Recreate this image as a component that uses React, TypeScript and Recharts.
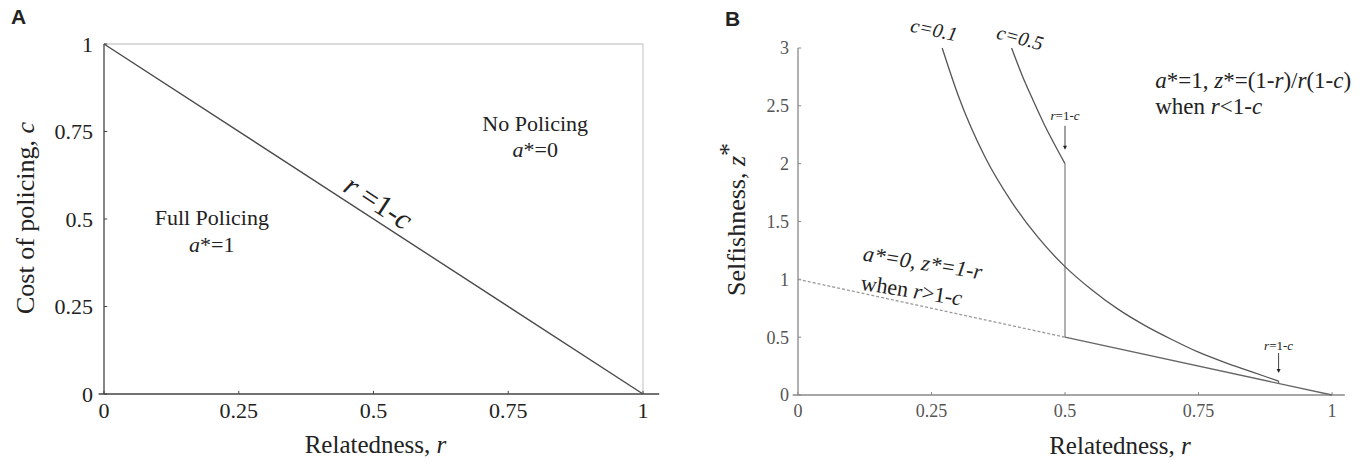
import React from "react";
import { LineChart, Line, XAxis, YAxis, ReferenceLine, ReferenceDot } from "recharts";

const SERIF = "'Liberation Serif', 'Times New Roman', serif";

// Panel A: policing boundary r = 1 - c
const ticksA = [0, 0.25, 0.5, 0.75, 1];
const boundaryR = [0, 1];
const boundaryC = [1, 0];

// Panel B: selfishness z* against relatedness r
const ticksBX = [0, 0.25, 0.5, 0.75, 1];
const ticksBY = [0, 0.5, 1, 1.5, 2, 2.5, 3];
const c01R = [0.27, 0.3, 0.35, 0.4, 0.45, 0.5, 0.55, 0.6, 0.65, 0.7, 0.75, 0.8, 0.85, 0.9];
const c01Z = [3.0, 2.59, 2.06, 1.67, 1.36, 1.11, 0.91, 0.74, 0.6, 0.48, 0.37, 0.28, 0.2, 0.12];
const c05R = [0.4, 0.42, 0.44, 0.46, 0.48, 0.5];
const c05Z = [3.0, 2.76, 2.55, 2.35, 2.17, 2.0];
const jumpR = [0.5, 0.5];
const jumpZ = [2.0, 0.5];
const tailR = [0.9, 0.9];
const tailZ = [0.12, 0.1];
const noPoliceDashR = [0, 0.5];
const noPoliceDashZ = [1, 0.5];
const noPoliceR = [0.5, 1];
const noPoliceZ = [0.5, 0];

const zip = (xs: number[], ys: number[], key: string) => xs.map((x, i) => ({ r: x, [key]: ys[i] }));

type Part = [string, boolean?];

const Rich = ({ x, y, parts, size, angle = 0, anchor = "middle", fill = "#222" }: any) => (
  <text
    x={x}
    y={y}
    fontSize={size}
    fill={fill}
    textAnchor={anchor}
    dominantBaseline="central"
    fontFamily={SERIF}
    transform={angle ? `rotate(${angle} ${x} ${y})` : undefined}
  >
    {parts.map(([t, it]: Part, i: number) => (
      <tspan key={i} fontStyle={it ? "italic" : "normal"}>
        {t}
      </tspan>
    ))}
  </text>
);

const note = (parts: Part[], size: number, opts: any = {}) => (props: any) => {
  const { x, y } = props.viewBox;
  return <Rich x={x} y={y} parts={parts} size={size} {...opts} />;
};

// small down arrow whose tip sits on the reference point
const arrow = (len: number) => (props: any) => {
  const { x, y } = props.viewBox;
  return (
    <g>
      <line x1={x} y1={y - len} x2={x} y2={y - 2} stroke="#444" strokeWidth={1} />
      <path d={`M${x - 2},${y - 4} L${x + 2},${y - 4} L${x},${y} Z`} fill="#222" />
    </g>
  );
};

const xTitle = (parts: Part[], size: number, dx: number, dy: number, fill: string) => (props: any) => {
  const { x, y, width } = props.viewBox;
  return <Rich x={x + width / 2 + dx} y={y + dy} parts={parts} size={size} fill={fill} />;
};

const yTitle = (size: number, cx: number, dy: number, fill: string, star: boolean) => (props: any) => {
  const { y, height } = props.viewBox;
  const cy = y + height / 2 + dy;
  return (
    <text
      x={cx}
      y={cy}
      fontSize={size}
      fill={fill}
      textAnchor="middle"
      dominantBaseline="central"
      fontFamily={SERIF}
      transform={`rotate(-90 ${cx} ${cy})`}
    >
      {star ? (
        <>
          <tspan>Selfishness, </tspan>
          <tspan fontStyle="italic">z</tspan>
          <tspan dy={-8}>*</tspan>
        </>
      ) : (
        <>
          <tspan>Cost of policing, </tspan>
          <tspan fontStyle="italic">c</tspan>
        </>
      )}
    </text>
  );
};

const PanelLetter = ({ left, top, children }: any) => (
  <div
    style={{
      position: "absolute",
      left,
      top,
      fontFamily: "'Liberation Sans', Arial, sans-serif",
      fontWeight: 700,
      fontSize: 21,
      color: "#222",
      lineHeight: 1,
    }}
  >
    {children}
  </div>
);

const PanelA = () => (
  <LineChart width={680} height={467} margin={{ top: 44, right: 37, bottom: 33, left: 44 }}>
    <XAxis
      dataKey="r"
      type="number"
      domain={[0, 1]}
      ticks={ticksA}
      axisLine={false}
      tickLine={false}
      tickSize={6}
      tickMargin={2}
      height={40}
      tick={{ fontSize: 22, fill: "#222", fontFamily: SERIF }}
      label={{ content: xTitle([["Relatedness, "], ["r", true]], 25, 2, 50, "#222") }}
    />
    <YAxis
      type="number"
      domain={[0, 1]}
      ticks={ticksA}
      width={60}
      axisLine={{ stroke: "#444", strokeWidth: 1.3 }}
      tickLine={false}
      tickSize={6}
      tickMargin={5}
      tick={{ fontSize: 22, fill: "#222", fontFamily: SERIF }}
      label={{ content: yTitle(26, 25, -1, "#222", false) }}
    />
    {/* frame */}
    <ReferenceLine segment={[{ x: 0, y: 1 }, { x: 1, y: 1 }]} stroke="#cfcfcf" strokeWidth={1.3} ifOverflow="visible" />
    <ReferenceLine segment={[{ x: 1, y: 0 }, { x: 1, y: 1 }]} stroke="#cfcfcf" strokeWidth={1.3} ifOverflow="visible" />
    <ReferenceLine segment={[{ x: -0.01, y: 0 }, { x: 1.03, y: 0 }]} stroke="#444" strokeWidth={1.3} ifOverflow="visible" />
    {ticksA.map((t) => (
      <ReferenceLine key={"xa" + t} segment={[{ x: t, y: 0 }, { x: t, y: 0.009 }]} stroke="#444" ifOverflow="visible" />
    ))}
    {ticksA.map((t) => (
      <ReferenceLine key={"ya" + t} segment={[{ x: 0, y: t }, { x: 0.006, y: t }]} stroke="#444" ifOverflow="visible" />
    ))}
    <Line
      data={zip(boundaryR, boundaryC, "c")}
      dataKey="c"
      type="linear"
      stroke="#4a4a4a"
      strokeWidth={1.4}
      dot={false}
      isAnimationActive={false}
    />
    <ReferenceDot x={0.8} y={0.775} r={0} ifOverflow="visible" label={note([["No Policing"]], 22)} />
    <ReferenceDot x={0.8} y={0.7} r={0} ifOverflow="visible" label={note([["a", true], ["*=0"]], 22)} />
    <ReferenceDot x={0.2} y={0.505} r={0} ifOverflow="visible" label={note([["Full Policing"]], 22)} />
    <ReferenceDot x={0.2} y={0.43} r={0} ifOverflow="visible" label={note([["a", true], ["*=1"]], 22)} />
    <ReferenceDot
      x={0.51}
      y={0.55}
      r={0}
      ifOverflow="visible"
      label={note([["r", true], [" =1-"], ["c", true]], 30, { angle: 33 })}
    />
  </LineChart>
);

const PanelB = () => (
  <LineChart width={684} height={467} margin={{ top: 48, right: 32, bottom: 32, left: 58 }}>
    <XAxis
      dataKey="r"
      type="number"
      domain={[0, 1]}
      ticks={ticksBX}
      axisLine={false}
      tickLine={false}
      tickSize={6}
      tickMargin={3}
      height={40}
      tick={{ fontSize: 18, fill: "#555", fontFamily: SERIF }}
      label={{ content: xTitle([["Relatedness, "], ["r", true]], 25, 55, 50, "#222") }}
    />
    <YAxis
      type="number"
      domain={[0, 3]}
      ticks={ticksBY}
      width={60}
      axisLine={{ stroke: "#888", strokeWidth: 1.3 }}
      tickLine={false}
      tickSize={6}
      tickMargin={3}
      tick={{ fontSize: 18, fill: "#555", fontFamily: SERIF }}
      label={{ content: yTitle(26, 56, -2, "#222", true) }}
    />
    <ReferenceLine segment={[{ x: -0.01, y: 0 }, { x: 1.024, y: 0 }]} stroke="#888" strokeWidth={1.3} ifOverflow="visible" />
    {ticksBX.map((t) => (
      <ReferenceLine key={"xb" + t} segment={[{ x: t, y: 0 }, { x: t, y: 0.025 }]} stroke="#888" ifOverflow="visible" />
    ))}
    {ticksBY.map((t) => (
      <ReferenceLine key={"yb" + t} segment={[{ x: 0, y: t }, { x: 0.006, y: t }]} stroke="#888" ifOverflow="visible" />
    ))}
    <Line data={zip(noPoliceDashR, noPoliceDashZ, "z")} dataKey="z" type="linear" stroke="#9a9a9a" strokeWidth={1.3} strokeDasharray="3 2" dot={false} isAnimationActive={false} />
    <Line data={zip(noPoliceR, noPoliceZ, "z")} dataKey="z" type="linear" stroke="#666" strokeWidth={1.3} dot={false} isAnimationActive={false} />
    <Line data={zip(jumpR, jumpZ, "z")} dataKey="z" type="linear" stroke="#888" strokeWidth={1.3} dot={false} isAnimationActive={false} />
    <Line data={zip(tailR, tailZ, "z")} dataKey="z" type="linear" stroke="#666" strokeWidth={1.2} dot={false} isAnimationActive={false} />
    <Line data={zip(c01R, c01Z, "z")} dataKey="z" type="monotone" stroke="#555" strokeWidth={1.3} dot={false} isAnimationActive={false} />
    <Line data={zip(c05R, c05Z, "z")} dataKey="z" type="monotone" stroke="#555" strokeWidth={1.3} dot={false} isAnimationActive={false} />

    <ReferenceDot x={0.255} y={3.16} r={0} ifOverflow="visible" label={note([["c=0.1", true]], 20, { angle: 12 })} />
    <ReferenceDot x={0.416} y={3.09} r={0} ifOverflow="visible" label={note([["c=0.5", true]], 20, { angle: 15 })} />
    <ReferenceDot x={0.5} y={2.42} r={0} ifOverflow="visible" label={note([["r", true], ["=1-"], ["c", true]], 13)} />
    <ReferenceDot x={0.5} y={2.12} r={0} ifOverflow="visible" label={arrow(24)} />
    <ReferenceDot x={0.9} y={0.43} r={0} ifOverflow="visible" label={note([["r", true], ["=1-"], ["c", true]], 13)} />
    <ReferenceDot x={0.9} y={0.19} r={0} ifOverflow="visible" label={arrow(20)} />
    <ReferenceDot
      x={0.669}
      y={2.72}
      r={0}
      ifOverflow="visible"
      label={note(
        [["a", true], ["*=1, "], ["z", true], ["*=(1-"], ["r", true], [")/"], ["r", true], ["(1-"], ["c", true], [")"]],
        23,
        { anchor: "start" }
      )}
    />
    <ReferenceDot
      x={0.669}
      y={2.5}
      r={0}
      ifOverflow="visible"
      label={note([["when "], ["r", true], ["<1-"], ["c", true]], 23, { anchor: "start" })}
    />
    <ReferenceDot
      x={0.234}
      y={1.15}
      r={0}
      ifOverflow="visible"
      label={note([["a*=0, z*=1-r", true]], 22, { angle: 9 })}
    />
    <ReferenceDot
      x={0.213}
      y={0.91}
      r={0}
      ifOverflow="visible"
      label={note([["when "], ["r", true], [">1-"], ["c", true]], 22, { angle: 9 })}
    />
  </LineChart>
);

export default function App() {
  return (
    <div style={{ position: "absolute", left: 0, top: 0, width: 1364, height: 467, background: "#fff", fontFamily: SERIF }}>
      <PanelLetter left={11} top={6}>A</PanelLetter>
      <PanelLetter left={725} top={8}>B</PanelLetter>
      <div style={{ position: "absolute", left: 0, top: 0 }}>
        <PanelA />
      </div>
      <div style={{ position: "absolute", left: 680, top: 0 }}>
        <PanelB />
      </div>
    </div>
  );
}
